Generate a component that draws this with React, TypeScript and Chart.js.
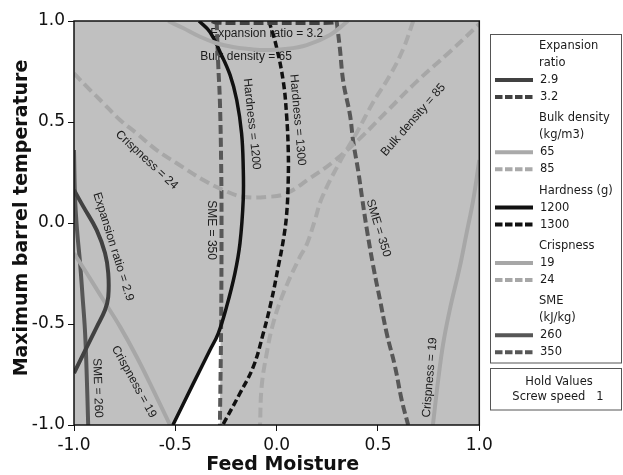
import React, { useEffect, useRef } from 'react';
import { Chart, registerables } from 'chart.js';

Chart.register(...registerables);

type Pt = [number, number];

// ---- axis ticks ----
const xTickValues = [-1, -0.5, 0, 0.5, 1];
const yTickValues = [-1, -0.5, 0, 0.5, 1];

// ---- contour series (Feed Moisture, Maximum barrel temperature) ----
const expansionRatio29: Pt[] = [
  [-1.0, 0.163], [-0.954, 0.081], [-0.888, -0.035], [-0.847, -0.149], [-0.831, -0.248],
  [-0.831, -0.366], [-0.847, -0.431], [-0.888, -0.515], [-0.937, -0.614], [-1.0, -0.743],
];
const expansionRatio32: Pt[] = [
  [-0.32, 1.0], [-0.3, 0.993], [-0.2, 0.99], [0.0, 0.99], [0.2, 0.99], [0.285, 0.993], [0.298, 1.0],
];
const bulkDensity65: Pt[] = [
  [-0.535, 1.0], [-0.462, 0.965], [-0.378, 0.922], [-0.296, 0.89], [-0.216, 0.871], [-0.132, 0.861],
  [-0.058, 0.856], [0.041, 0.861], [0.148, 0.881], [0.263, 0.931], [0.352, 1.0],
];
const bulkDensity85: Pt[] = [
  [0.674, 1.0], [0.625, 0.863], [0.559, 0.731], [0.477, 0.599], [0.395, 0.447], [0.312, 0.303],
  [0.223, 0.124], [0.189, 0.015], [0.148, -0.108], [0.115, -0.167], [0.033, -0.348],
  [-0.017, -0.496], [-0.049, -0.645], [-0.074, -0.81], [-0.082, -1.0],
];
const hardness1200: Pt[] = [
  [-0.383, 1.0], [-0.329, 0.946], [-0.28, 0.848], [-0.23, 0.733], [-0.197, 0.609], [-0.173, 0.444],
  [-0.165, 0.279], [-0.165, 0.114], [-0.181, -0.1], [-0.206, -0.249], [-0.247, -0.414],
  [-0.288, -0.546], [-0.329, -0.629], [-0.411, -0.794], [-0.512, -1.0],
];
const hardness1300: Pt[] = [
  [-0.038, 1.0], [-0.003, 0.881], [0.033, 0.699], [0.049, 0.534], [0.057, 0.37], [0.057, 0.205],
  [0.049, 0.04], [0.033, -0.084], [0.008, -0.216], [-0.025, -0.381], [-0.066, -0.546],
  [-0.115, -0.711], [-0.181, -0.843], [-0.266, -1.0],
];
const crispness19Left: Pt[] = [
  [-1.0, -0.15], [-0.937, -0.249], [-0.855, -0.381], [-0.773, -0.513], [-0.691, -0.662],
  [-0.609, -0.827], [-0.526, -1.0],
];
const crispness19Right: Pt[] = [
  [1.0, 0.312], [0.97, 0.114], [0.937, -0.051], [0.904, -0.216], [0.854, -0.431],
  [0.822, -0.596], [0.797, -0.777], [0.771, -1.0],
];
const crispness24: Pt[] = [
  [-1.0, 0.741], [-0.937, 0.675], [-0.855, 0.593], [-0.773, 0.51], [-0.691, 0.444], [-0.592, 0.361],
  [-0.493, 0.296], [-0.362, 0.213], [-0.263, 0.163], [-0.165, 0.13], [-0.033, 0.13], [0.049, 0.147],
  [0.164, 0.221], [0.279, 0.303], [0.411, 0.419], [0.559, 0.568], [0.691, 0.7], [0.855, 0.848],
  [1.0, 0.985],
];
const sme260: Pt[] = [
  [-1.0, 0.361], [-0.995, 0.13], [-0.985, -0.035], [-0.97, -0.198], [-0.958, -0.361],
  [-0.946, -0.53], [-0.938, -0.728], [-0.93, -1.0],
];
const sme350Left: Pt[] = [
  [-0.296, 1.0], [-0.289, 0.8], [-0.28, 0.6], [-0.274, 0.3], [-0.272, 0.0], [-0.274, -0.5], [-0.28, -1.0],
];
const sme350Right: Pt[] = [
  [0.296, 1.0], [0.312, 0.864], [0.329, 0.699], [0.362, 0.534], [0.378, 0.402], [0.403, 0.254],
  [0.421, 0.129], [0.444, -0.025], [0.477, -0.216], [0.51, -0.381], [0.543, -0.546],
  [0.584, -0.71], [0.617, -0.876], [0.649, -1.0],
];
// feasible (white) region
const feasibleRegion: Pt[] = [
  [-0.276, -0.507], [-0.288, -0.546], [-0.329, -0.629], [-0.411, -0.794], [-0.512, -1.0], [-0.28, -1.0],
];

// ---- contour labels ----
const labelTexts = [
  'Expansion ratio = 3.2', 'Bulk density = 65', 'Hardness = 1200', 'Hardness = 1300',
  'Crispness = 24', 'Bulk density = 85', 'SME = 350', 'SME = 350', 'Expansion ratio = 2.9',
  'SME = 260', 'Crispness = 19', 'Crispness = 19',
];
const labelX = [-0.049, -0.151, -0.123, 0.103, -0.641, 0.674, -0.321, 0.502, -0.806, -0.884, -0.704, 0.756];
const labelY = [0.939, 0.823, 0.49, 0.51, 0.312, 0.51, -0.035, -0.025, -0.117, -0.817, -0.786, -0.765];
const labelAngle = [0, 0, 84, 85, 43, -49, 90, 73, 72.7, 88, 61, -85];

// ---- legend ----
const legendGroups = [['Expansion', 'ratio'], ['Bulk density', '(kg/m3)'], ['Hardness (g)'], ['Crispness'], ['SME', '(kJ/kg)']];
const holdValues = ['Hold Values', 'Screw speed   1'];

const COL = {
  expansion: '#414141',
  bulk: '#aaaaaa',
  hardness: '#111111',
  crisp: '#a7a7a7',
  sme: '#575757',
  bg: '#c0c0c0',
};

type Series = { group: number; legend: string | null; data: Pt[]; color: string; dash: number[]; width: number };
const series: Series[] = [
  { group: 0, legend: '2.9', data: expansionRatio29, color: COL.expansion, dash: [], width: 4 },
  { group: 0, legend: '3.2', data: expansionRatio32, color: COL.expansion, dash: [10, 4], width: 4 },
  { group: 1, legend: '65', data: bulkDensity65, color: COL.bulk, dash: [], width: 4 },
  { group: 1, legend: '85', data: bulkDensity85, color: COL.bulk, dash: [10, 5], width: 4 },
  { group: 2, legend: '1200', data: hardness1200, color: COL.hardness, dash: [], width: 3.5 },
  { group: 2, legend: '1300', data: hardness1300, color: COL.hardness, dash: [7, 3.5], width: 3.5 },
  { group: 3, legend: '19', data: crispness19Left, color: COL.crisp, dash: [], width: 4 },
  { group: 3, legend: null, data: crispness19Right, color: COL.crisp, dash: [], width: 4 },
  { group: 3, legend: '24', data: crispness24, color: COL.crisp, dash: [10, 5], width: 4 },
  { group: 4, legend: '260', data: sme260, color: COL.sme, dash: [], width: 4 },
  { group: 4, legend: '350', data: sme350Left, color: COL.sme, dash: [9, 4], width: 4 },
  { group: 4, legend: null, data: sme350Right, color: COL.sme, dash: [9, 4], width: 4 },
];

const toXY = (pts: Pt[]) => pts.map(([x, y]) => ({ x, y }));

const overlayPlugin = {
  id: 'overlay',
  beforeDatasetsDraw(chart: any) {
    const { ctx, chartArea: a, scales } = chart;
    ctx.save();
    ctx.fillStyle = COL.bg;
    ctx.fillRect(a.left, a.top, a.right - a.left, a.bottom - a.top);
    // contour labels
    ctx.beginPath();
    ctx.rect(a.left, a.top, a.right - a.left, a.bottom - a.top);
    ctx.clip();
    ctx.fillStyle = '#1c1c1c';
    ctx.font = '12px "Liberation Sans", Arial, sans-serif';
    ctx.textAlign = 'center';
    ctx.textBaseline = 'middle';
    labelTexts.forEach((t, i) => {
      const px = scales.x.getPixelForValue(labelX[i]);
      const py = scales.y.getPixelForValue(labelY[i]);
      ctx.save();
      ctx.translate(px, py);
      ctx.rotate((labelAngle[i] * Math.PI) / 180);
      ctx.fillText(t, 0, 0);
      ctx.restore();
    });
    ctx.restore();
  },
  afterDatasetsDraw(chart: any) {
    const { ctx, chartArea: a } = chart;
    ctx.save();
    ctx.strokeStyle = '#111';
    ctx.lineWidth = 1.5;
    ctx.strokeRect(a.left, a.top, a.right - a.left, a.bottom - a.top);
    ctx.restore();
  },
  afterDraw(chart: any) {
    const { ctx, chartArea: a } = chart;
    ctx.save();
    // axis titles
    ctx.fillStyle = '#111';
    ctx.font = 'bold 19px "DejaVu Sans", Verdana, sans-serif';
    ctx.textAlign = 'center';
    ctx.textBaseline = 'middle';
    ctx.fillText('Feed Moisture', (a.left + a.right) / 2 + 6, 465);
    ctx.save();
    ctx.translate(22.5, (a.top + a.bottom) / 2 - 5);
    ctx.rotate(-Math.PI / 2);
    ctx.fillText('Maximum barrel temperature', 0, 0);
    ctx.restore();

    // legend box
    const bx = 490.5, bw = 131, by = 34.5, bh = 328.5;
    ctx.strokeStyle = '#555';
    ctx.lineWidth = 1;
    ctx.strokeRect(bx, by, bw, bh);
    ctx.strokeRect(bx, 368.5, bw, 41.5);

    ctx.font = '11.5px "DejaVu Sans", Verdana, sans-serif';
    ctx.textAlign = 'left';
    ctx.fillStyle = '#1a1a1a';
    let row = 0;
    legendGroups.forEach((hdr, g) => {
      hdr.forEach((h) => {
        ctx.fillText(h, 539, 46 + 17 * row + 4.3 * g);
        row++;
      });
      series.filter((s) => s.group === g && s.legend).forEach((s) => {
        const y = 46 + 17 * row + 4.3 * g;
        ctx.save();
        ctx.strokeStyle = s.color;
        ctx.lineWidth = 4;
        ctx.setLineDash(s.dash.length ? [7.5, 2.5] : []);
        ctx.beginPath();
        ctx.moveTo(495, y);
        ctx.lineTo(533, y);
        ctx.stroke();
        ctx.restore();
        ctx.fillText(s.legend as string, 540, y);
        row++;
      });
    });
    ctx.textAlign = 'center';
    ctx.fillText(holdValues[0], 559, 382);
    ctx.fillText(holdValues[1], 558, 397);
    ctx.restore();
  },
};

export default function App() {
  const ref = useRef<HTMLCanvasElement>(null);
  useEffect(() => {
    const canvas = ref.current;
    if (!canvas) return;
    const datasets: any[] = series.map((s) => ({
      data: toXY(s.data),
      showLine: true,
      borderColor: s.color,
      borderWidth: s.width,
      borderDash: s.dash,
      pointRadius: 0,
      tension: 0.4,
      fill: false,
      clip: 0,
      order: 1,
    }));
    datasets.push({
      data: toXY(feasibleRegion),
      showLine: true,
      borderWidth: 0,
      borderColor: 'rgba(0,0,0,0)',
      backgroundColor: '#ffffff',
      fill: 'shape',
      pointRadius: 0,
      tension: 0,
      clip: 0,
      order: 100,
    });
    const tickFont = { family: '"DejaVu Sans", Verdana, sans-serif', size: 17 };
    const chart = new Chart(canvas, {
      type: 'scatter',
      data: { datasets },
      options: {
        animation: false,
        responsive: false,
        events: [],
        layout: { padding: { top: 21, right: 143.7, bottom: 0, left: 0 } },
        plugins: { legend: { display: false }, tooltip: { enabled: false } },
        scales: {
          x: {
            type: 'linear',
            min: -1,
            max: 1,
            afterBuildTicks: (axis: any) => { axis.ticks = xTickValues.map((v) => ({ value: v })); },
            afterFit: (axis: any) => { axis.height = 50; },
            ticks: { font: tickFont, color: '#111', padding: 4, maxRotation: 0, callback: (v: any) => Number(v).toFixed(1) },
            grid: { display: true, drawOnChartArea: false, drawTicks: true, tickLength: 6, color: '#111' },
            border: { display: false },
          },
          y: {
            type: 'linear',
            min: -1,
            max: 1,
            afterBuildTicks: (axis: any) => { axis.ticks = yTickValues.map((v) => ({ value: v })); },
            afterFit: (axis: any) => { axis.width = 74; },
            ticks: { font: tickFont, color: '#111', padding: 3, callback: (v: any) => Number(v).toFixed(1) },
            grid: { display: true, drawOnChartArea: false, drawTicks: true, tickLength: 6, color: '#111' },
            border: { display: false },
          },
        },
      },
      plugins: [overlayPlugin],
    } as any);
    return () => chart.destroy();
  }, []);
  return (
    <div style={{ position: 'fixed', left: 0, top: 0, width: 623, height: 475, background: '#fff' }}>
      <canvas ref={ref} width={623} height={475} style={{ display: 'block', width: 623, height: 475 }} />
    </div>
  );
}
